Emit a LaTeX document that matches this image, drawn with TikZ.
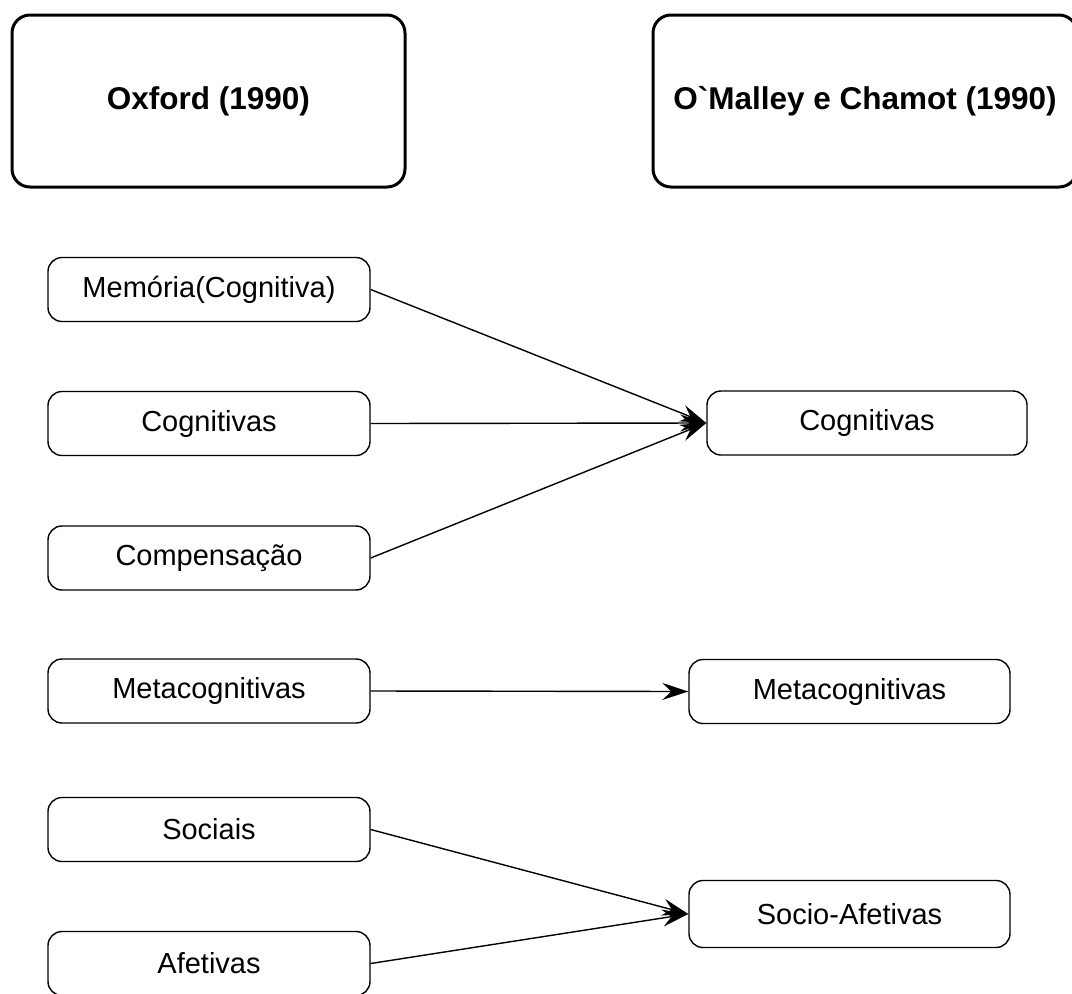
\documentclass[tikz,border=0pt]{standalone}
\usepackage{fontspec}
\setmainfont{Liberation Sans}[Ligatures=TeXOff]
\usetikzlibrary{arrows.meta}
\begin{document}
\begin{tikzpicture}[x=1pt,y=-1pt,
  headbox/.style={draw, line width=3pt, rounded corners=18pt, minimum width=393pt,
    minimum height=172pt, inner sep=0pt, font=\fontsize{31.5}{36}\selectfont\bfseries},
  catbox/.style={draw, line width=1.4pt, rounded corners=14pt, minimum width=322pt,
    minimum height=64pt, inner sep=0pt, font=\fontsize{29}{34}\selectfont},
  link/.style={line width=1.4pt, -{Stealth[length=26pt,width=17pt,inset=9pt]}}]
\useasboundingbox (0,0) rectangle (1072,994);
\clip (0,0) rectangle (1072,994);
% column headers
\node[headbox] (oxford) at (208.5,101) {Oxford (1990)};
\node[headbox, minimum width=424pt] (omalley) at (865,101) {O`Malley e Chamot (1990)};
% Oxford categories
\node[catbox] (mem)  at (209,289.5) {Memória(Cognitiva)};
\node[catbox] (cogL) at (209,423.5) {Cognitivas};
\node[catbox] (comp) at (209,558) {Compensação};
\node[catbox] (metL) at (209,691) {Metacognitivas};
\node[catbox] (soc)  at (209,829.5) {Sociais};
\node[catbox] (afe)  at (209,963.5) {Afetivas};
% O'Malley and Chamot categories
\node[catbox, minimum width=320pt] (cogR) at (867,423) {Cognitivas};
\node[catbox, minimum width=321pt] (metR) at (849.5,691.5) {Metacognitivas};
\node[catbox, minimum width=321pt, minimum height=67pt] (sae) at (849.5,914) {Socio-Afetivas};
% correspondences
\draw[link] (mem.east)  -- (cogR.west);
\draw[link] (cogL.east) -- (cogR.west);
\draw[link] (comp.east) -- (cogR.west);
\draw[link] (metL.east) -- (metR.west);
\draw[link] (soc.east)  -- (sae.west);
\draw[link] (afe.east)  -- (sae.west);
\end{tikzpicture}
\end{document}
